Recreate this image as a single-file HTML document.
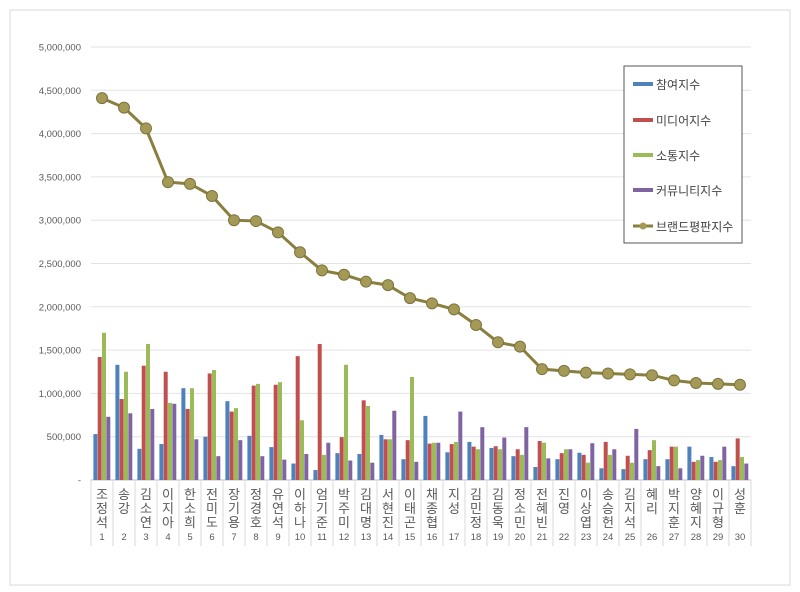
<!DOCTYPE html>
<html><head><meta charset="utf-8"><style>
body{margin:0;background:#fff;}
svg{display:block;font-family:"Liberation Sans","Noto Sans CJK KR",sans-serif;}
</style></head><body>
<svg id="chart" width="800" height="592">
<rect x="10" y="10" width="780" height="575" fill="#fff" stroke="#d9d9d9"/>
<g id="grid"></g><g id="bars"></g><g id="line"></g><g id="xaxis"></g>
<g>
<rect x="624" y="66" width="118" height="177" fill="#fff" stroke="#555"/>
<rect x="633" y="82" width="20" height="4" fill="#4f81bd"/>
<text x="656" y="89" font-size="12" fill="#444">참여지수</text>
<rect x="633" y="118" width="20" height="4" fill="#c0504d"/>
<text x="656" y="125" font-size="12" fill="#444">미디어지수</text>
<rect x="633" y="153" width="20" height="4" fill="#9bbb59"/>
<text x="656" y="160" font-size="12" fill="#444">소통지수</text>
<rect x="633" y="188" width="20" height="4" fill="#8064a2"/>
<text x="656" y="195" font-size="12" fill="#444">커뮤니티지수</text>
<line x1="633" y1="226" x2="653" y2="226" stroke="#8a7f3e" stroke-width="3"/>
<circle cx="643" cy="226" r="3.5" fill="#a59a55"/>
<text x="656" y="231" font-size="12" fill="#444">브랜드평판지수</text>
</g>
</svg>
<script>
const names=["조정석","송강","김소연","이지아","한소희","전미도","장기용","정경호","유연석","이하나","엄기준","박주미","김대명","서현진","이태곤","채종협","지성","김민정","김동욱","정소민","전혜빈","진영","이상엽","송승헌","김지석","혜리","박지훈","양혜지","이규형","성훈"];
const participation=[530,1330,360,415,1060,500,910,510,380,190,115,310,300,520,240,740,320,440,370,275,150,240,315,135,125,240,240,385,265,160].map(v=>v*1000);
const media=[1420,935,1320,1250,820,1230,790,1090,1100,1430,1570,495,920,470,460,420,415,385,390,355,450,310,290,440,280,345,385,210,210,480].map(v=>v*1000);
const communication=[1700,1250,1570,890,1060,1270,830,1110,1130,690,290,1330,855,470,1190,430,440,355,355,290,430,355,200,290,200,460,385,230,230,265].map(v=>v*1000);
const community=[730,770,820,880,470,275,460,275,235,300,430,225,200,800,210,430,790,610,490,610,250,355,425,355,590,160,135,280,385,190].map(v=>v*1000);
const brand=[4410,4300,4060,3440,3420,3280,3000,2990,2860,2630,2420,2370,2290,2250,2100,2040,1970,1790,1590,1540,1280,1260,1240,1230,1220,1210,1150,1120,1110,1100].map(v=>v*1000);
const yTicks=[0,500000,1000000,1500000,2000000,2500000,3000000,3500000,4000000,4500000,5000000];
const NS="http://www.w3.org/2000/svg";
const X0=91,X1=751,Y0=480,Y1=47,YMAX=5000000;
const cw=(X1-X0)/names.length;
const y=v=>Y0-(v/YMAX)*(Y0-Y1);
const xc=i=>X0+cw*(i+0.5);
function mk(tag,attrs,parent){const e=document.createElementNS(NS,tag);for(const k in attrs)e.setAttribute(k,attrs[k]);parent.appendChild(e);return e;}
const grid=document.getElementById('grid');
yTicks.forEach(t=>{
  const l=mk('line',{x1:X0,x2:X1,y1:y(t),y2:y(t),stroke:t===0?'#bfbfbf':'#e3e3e3'},grid);
  
  
  const tx=mk('text',{x:81,y:y(t)+3.5,'font-size':'9.5','text-anchor':'end',fill:'#595959'},grid);
  tx.textContent=t===0?'-':t.toLocaleString('en-US');
  
  
});
const bars=document.getElementById('bars');
const series=[[participation,'#4f81bd','participation'],[media,'#c0504d','media'],[communication,'#9bbb59','communication'],[community,'#8064a2','community']];
const bw=4.3;
names.forEach((n,i)=>{
  const start=X0+cw*i+2.4;
  series.forEach((s,k)=>{
    const v=s[0][i];
    const r=mk('rect',{x:start+k*bw,y:y(v),width:bw-0.3,height:Y0-y(v),fill:s[1]},bars);
    
    
  });
});
const lg=document.getElementById('line');
const pl=mk('polyline',{points:brand.map((v,i)=>xc(i)+','+y(v)).join(' '),fill:'none',stroke:'#8a7f3e','stroke-width':3},lg);


brand.forEach((v,i)=>{
  const c=mk('circle',{cx:xc(i),cy:y(v),r:5.5,fill:'#a59a55',stroke:'#7d7340','stroke-width':1},lg);
  
  
});
const xa=document.getElementById('xaxis');
for(let i=0;i<=names.length;i++){
  const l=mk('line',{x1:X0+cw*i,x2:X0+cw*i,y1:Y0,y2:546,stroke:'#d9d9d9'},xa);
  
  
}
names.forEach((n,i)=>{
  const t=mk('text',{x:xc(i),'font-size':'13','text-anchor':'middle',fill:'#595959'},xa);
  [...n].forEach((ch,j)=>{const ts=mk('tspan',{x:xc(i),y:499+j*14},t);ts.textContent=ch;});
  
  
  const nm=mk('text',{x:xc(i),y:540,'font-size':'9.5','text-anchor':'middle',fill:'#595959'},xa);
  nm.textContent=String(i+1);
  
  
});
</script>
</body></html>
